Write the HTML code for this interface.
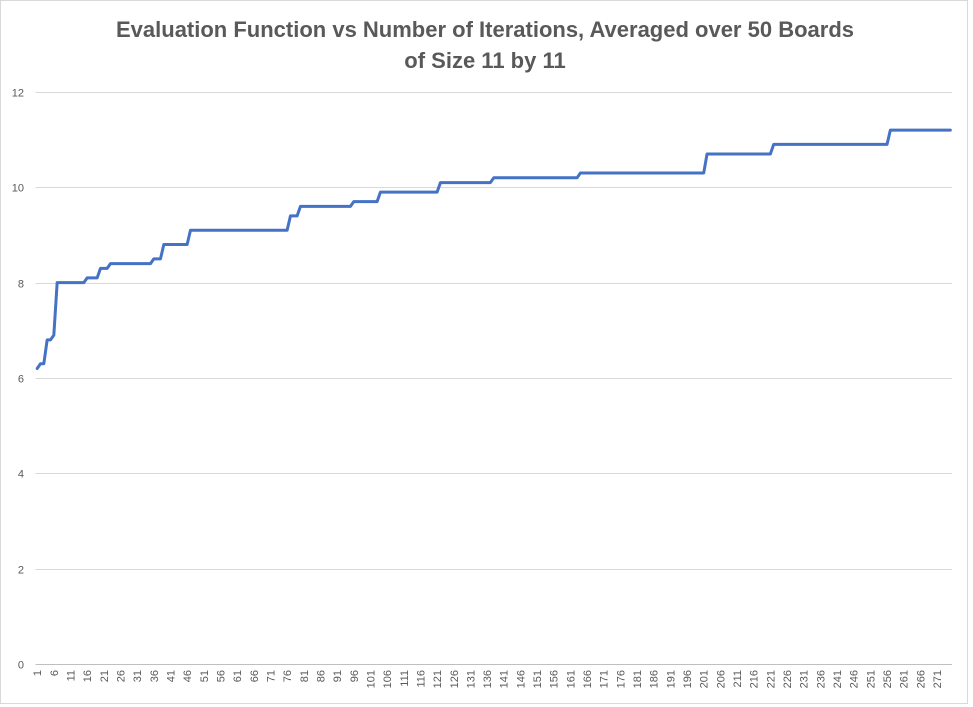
<!DOCTYPE html>
<html><head><meta charset="utf-8"><style>
html,body{margin:0;padding:0;background:#fff;}
svg{display:block;font-family:"Liberation Sans",sans-serif;}
</style></head><body>
<svg id="chart" width="973" height="707" viewBox="0 0 973 707">
<rect x="0.5" y="0.5" width="967" height="703" fill="#fff" stroke="#d9d9d9"/>
<text x="485" y="37" text-anchor="middle" font-size="22" font-weight="bold" fill="#595959">Evaluation Function vs Number of Iterations, Averaged over 50 Boards</text>
<text x="485" y="68" text-anchor="middle" font-size="22" font-weight="bold" fill="#595959">of Size 11 by 11</text>
<g id="grid"></g><g id="yticks"></g><g id="xticks"></g><g id="series"></g>
</svg>
<script>
const yTicks=[0,2,4,6,8,10,12];
const values=[6.2,
6.3,6.3,
6.8,6.8,
6.9,
8,8,8,8,8,8,8,8,8,
8.1,8.1,8.1,8.1,
8.3,8.3,8.3,
8.4,8.4,8.4,8.4,8.4,8.4,8.4,8.4,8.4,8.4,8.4,8.4,8.4,
8.5,8.5,8.5,
8.8,8.8,8.8,8.8,8.8,8.8,8.8,8.8,
9.1,9.1,9.1,9.1,9.1,9.1,9.1,9.1,9.1,9.1,9.1,9.1,9.1,9.1,9.1,9.1,9.1,9.1,9.1,9.1,9.1,9.1,9.1,9.1,9.1,9.1,9.1,9.1,9.1,9.1,
9.4,9.4,9.4,
9.6,9.6,9.6,9.6,9.6,9.6,9.6,9.6,9.6,9.6,9.6,9.6,9.6,9.6,9.6,9.6,
9.7,9.7,9.7,9.7,9.7,9.7,9.7,9.7,
9.9,9.9,9.9,9.9,9.9,9.9,9.9,9.9,9.9,9.9,9.9,9.9,9.9,9.9,9.9,9.9,9.9,9.9,
10.1,10.1,10.1,10.1,10.1,10.1,10.1,10.1,10.1,10.1,10.1,10.1,10.1,10.1,10.1,10.1,
10.2,10.2,10.2,10.2,10.2,10.2,10.2,10.2,10.2,10.2,10.2,10.2,10.2,10.2,10.2,10.2,10.2,10.2,10.2,10.2,10.2,10.2,10.2,10.2,10.2,10.2,
10.3,10.3,10.3,10.3,10.3,10.3,10.3,10.3,10.3,10.3,10.3,10.3,10.3,10.3,10.3,10.3,10.3,10.3,10.3,10.3,10.3,10.3,10.3,10.3,10.3,10.3,10.3,10.3,10.3,10.3,10.3,10.3,10.3,10.3,10.3,10.3,10.3,10.3,
10.7,10.7,10.7,10.7,10.7,10.7,10.7,10.7,10.7,10.7,10.7,10.7,10.7,10.7,10.7,10.7,10.7,10.7,10.7,10.7,
10.9,10.9,10.9,10.9,10.9,10.9,10.9,10.9,10.9,10.9,10.9,10.9,10.9,10.9,10.9,10.9,10.9,10.9,10.9,10.9,10.9,10.9,10.9,10.9,10.9,10.9,10.9,10.9,10.9,10.9,10.9,10.9,10.9,10.9,10.9,
11.2,11.2,11.2,11.2,11.2,11.2,11.2,11.2,11.2,11.2,11.2,11.2,11.2,11.2,11.2,11.2,11.2,11.2,11.2];
const categories=values.map((v,i)=>i+1);
const xLabelEvery=5;

const NS="http://www.w3.org/2000/svg";
const L=35.5,R=952,T=92,B=664,yMax=12;
const n=categories.length, step=(R-L)/n;
const xPos=i=>L+(i+0.5)*step;
const yPos=v=>B-(v/yMax)*(B-T);
function mk(tag,attrs,parent){const e=document.createElementNS(NS,tag);for(const k in attrs)e.setAttribute(k,attrs[k]);parent.appendChild(e);return e;}
const grid=document.getElementById('grid'),yg=document.getElementById('yticks'),xg=document.getElementById('xticks'),sg=document.getElementById('series');
yTicks.forEach(t=>{
  const y=Math.round(yPos(t))+0.5;
  const ln=mk('line',{x1:L,x2:R,y1:y,y2:y,stroke:'#d9d9d9','stroke-width':1},grid);
  
  
  const tx=mk('text',{x:24,y:y+4,'text-anchor':'end','font-size':11,fill:'#595959'},yg);
  tx.textContent=t;
  
  
});
const ax=mk('line',{x1:L,x2:R,y1:B+0.5,y2:B+0.5,stroke:'#bfbfbf','stroke-width':1},grid);


categories.forEach((c,i)=>{
  if(i%xLabelEvery!==0)return;
  const x=xPos(i)+4;
  const tx=mk('text',{x:0,y:0,'text-anchor':'end','font-size':11,fill:'#595959',transform:`translate(${x},${B+6}) rotate(-90)`},xg);
  tx.textContent=c;
  
  
});
const pts=values.map((v,i)=>xPos(i).toFixed(2)+','+yPos(v).toFixed(2)).join(' ');
const pl=mk('polyline',{points:pts,fill:'none',stroke:'#4472c4','stroke-width':3,'stroke-linejoin':'round','stroke-linecap':'round'},sg);


</script>
</body></html>
